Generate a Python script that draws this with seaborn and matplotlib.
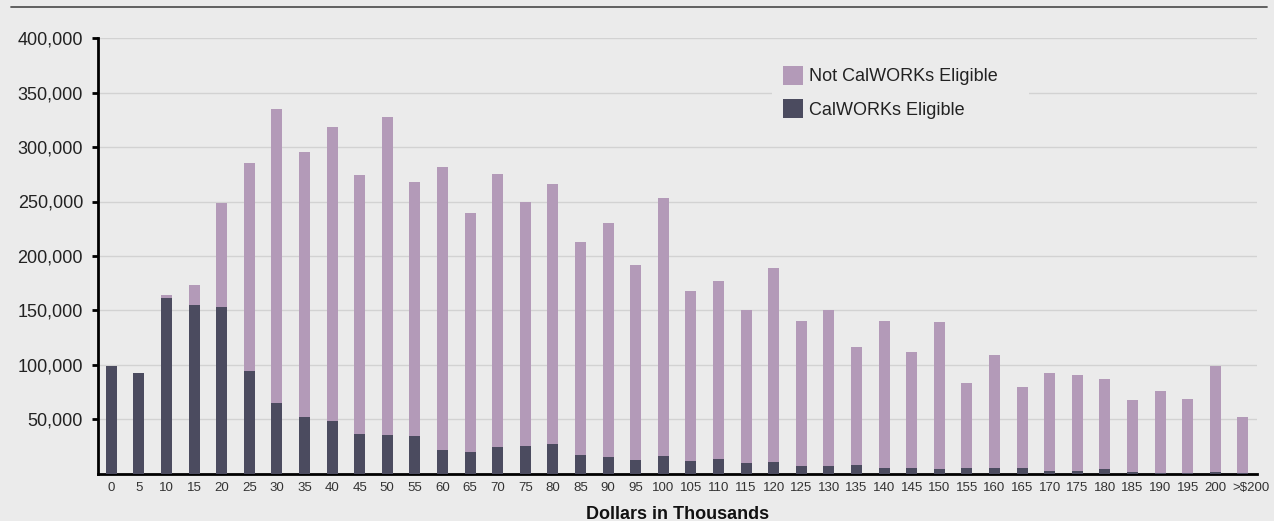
import matplotlib
matplotlib.use("Agg")
import matplotlib.pyplot as plt
from matplotlib.lines import Line2D
from matplotlib.patches import Patch, Rectangle
import matplotlib.transforms as mtransforms
import seaborn as sns
import pandas as pd

categories = [str(v) for v in range(0, 205, 5)] + [">$200"]
eligible = [99000, 92000, 161600, 154900, 153000, 94500, 64900, 52000, 48300, 36700,
            35500, 34800, 21400, 19800, 24100, 25100, 27200, 16800, 15000, 12800,
            16500, 11300, 13700, 9700, 10900, 7300, 6700, 7900, 5100, 5100,
            3900, 4900, 4600, 4900, 2400, 2400, 3900, 1700, 800, 800,
            1500, 500]
not_eligible = [0, 0, 2200, 18100, 95300, 191100, 269700, 243700, 270100, 237900,
                292400, 233400, 260000, 219600, 251100, 224700, 239100, 195900, 215200, 178800,
                236700, 156700, 163200, 140600, 178000, 132600, 143600, 108100, 135400, 106600,
                135400, 78300, 104300, 74400, 90000, 87900, 83300, 65900, 74800, 67700,
                97600, 51800]
yticks = [50000, 100000, 150000, 200000, 250000, 300000, 350000, 400000]
series_names = ["Not CalWORKs Eligible", "CalWORKs Eligible"]

BG = "#ebebeb"
LIGHT = "#b39ab8"
DARK = "#4b4b5f"

sns.set_theme(style="white")
plt.rcParams["font.family"] = ["Liberation Sans", "DejaVu Sans"]

df = pd.DataFrame({
    "income": categories,
    "eligible": eligible,
    "total": [a + b for a, b in zip(eligible, not_eligible)],
})

W, H = 1274, 521
AX_L, AX_R, AX_T, AX_B = 98.3, 1256.7, 38.3, 473.5
fig = plt.figure(figsize=(W / 100, H / 100), dpi=100, facecolor=BG)
ax = fig.add_axes([AX_L / W, (H - AX_B) / H, (AX_R - AX_L) / W, (AX_B - AX_T) / H])
ax.set_facecolor(BG)

sns.barplot(data=df, x="income", y="total", order=categories, color=LIGHT,
            width=0.4, linewidth=0, saturation=1, ax=ax, zorder=2)
sns.barplot(data=df, x="income", y="eligible", order=categories, color=DARK,
            width=0.4, linewidth=0, saturation=1, ax=ax, zorder=3)

ax.set_xlim(-0.47, len(categories) - 0.5)
ax.set_ylim(0, 400000)
ax.set_yticks(yticks)
ax.set_yticklabels([f"{v:,}" for v in yticks], fontsize=13, color="#222222")
ax.set_xticks(range(len(categories)))
# the last category label is drawn separately, nudged right/down as in the reference
ax.set_xticklabels(categories[:-1] + [""], fontsize=9.5, color="#333333")
last_tf = (mtransforms.blended_transform_factory(ax.transData, ax.transAxes) +
           mtransforms.ScaledTranslation(8 / 100, -8.5 / 100, fig.dpi_scale_trans))
ax.text(len(categories) - 1, 0, categories[-1], transform=last_tf, fontsize=9.5,
        color="#333333", ha="center", va="top")

ax.yaxis.grid(True, color="#d2d2d2", linewidth=1.0, zorder=0)
ax.xaxis.grid(False)
ax.set_axisbelow(True)

for s in ["top", "right"]:
    ax.spines[s].set_visible(False)
for s in ["left", "bottom"]:
    ax.spines[s].set_color("black")
    ax.spines[s].set_linewidth(2)

ax.tick_params(axis="y", which="major", left=True, length=4, width=2, color="black", pad=7)
ax.tick_params(axis="x", which="major", bottom=False, length=0, pad=6)

ax.set_ylabel("")
ax.set_xlabel("Dollars in Thousands", fontsize=13, fontweight="bold", color="#111111", labelpad=9)

def ax_x(px):
    return (px - AX_L) / (AX_R - AX_L)

def ax_y(py):
    return (AX_B - py) / (AX_B - AX_T)

# legend background box (hides the gridline behind the legend)
ax.add_patch(Rectangle((ax_x(772), ax_y(136)), ax_x(1029) - ax_x(772), ax_y(52) - ax_y(136),
                       transform=ax.transAxes, facecolor=BG, edgecolor="none", zorder=1))

handles = [Patch(facecolor=LIGHT, edgecolor="none"), Patch(facecolor=DARK, edgecolor="none")]
leg = ax.legend(handles, series_names, loc="upper left",
                bbox_to_anchor=(ax_x(772), ax_y(55)),
                frameon=False, fontsize=13, handlelength=1.1, handleheight=1.25,
                handletextpad=0.35, labelspacing=0.75, borderpad=0.6, borderaxespad=0)
for t in leg.get_texts():
    t.set_color("#222222")
leg.set_zorder(5)

fig.add_artist(Line2D([11 / W, 1267 / W], [1 - 7.3 / H] * 2,
                      color="#555555", linewidth=1.3))

fig.savefig("out.png", dpi=100, facecolor=BG)
